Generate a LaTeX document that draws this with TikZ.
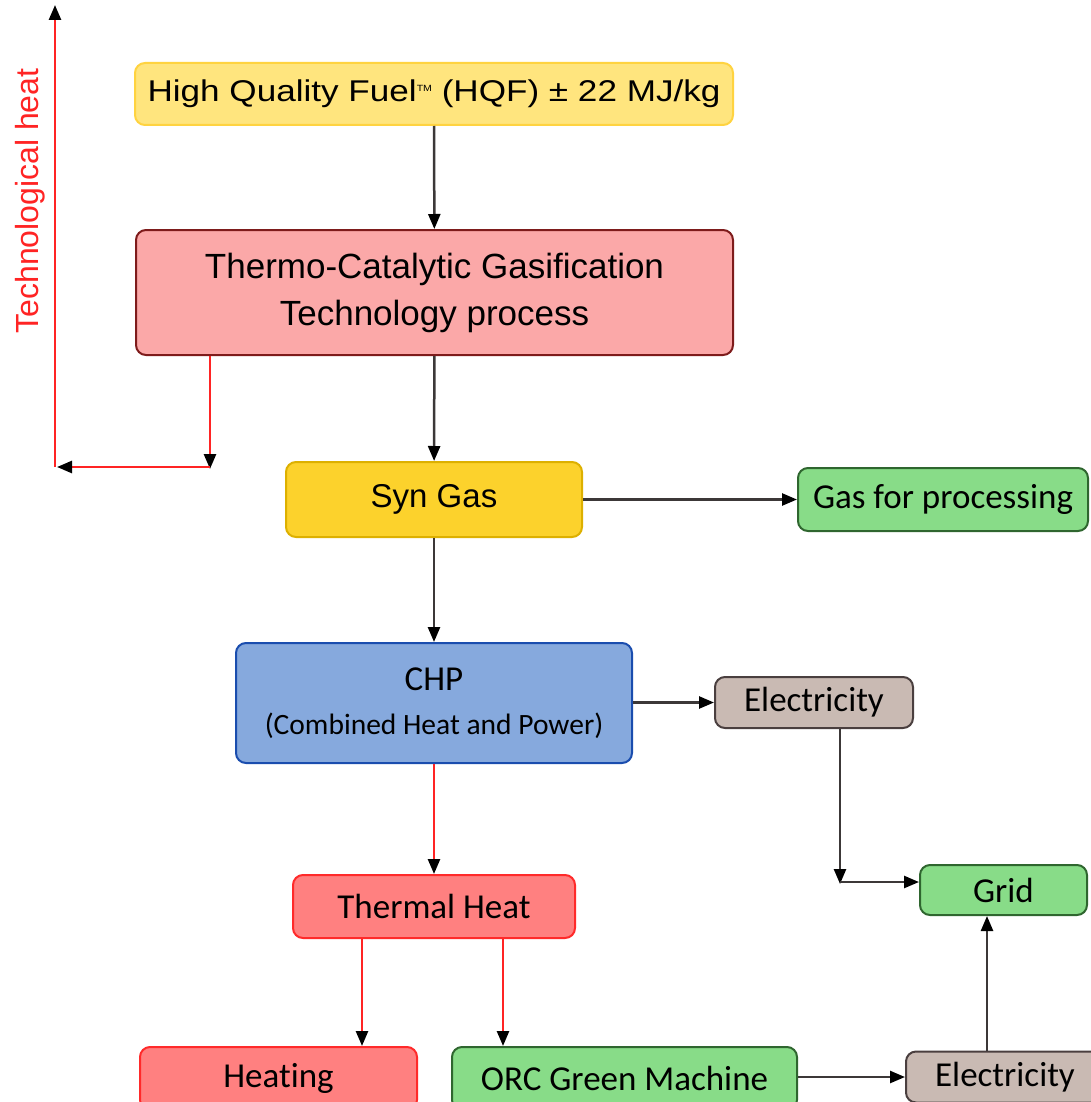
\documentclass[tikz,border=0pt]{standalone}
\usepackage{fontspec}
\setmainfont[Ligatures=NoCommon]{Carlito}
\newfontfamily\arialfont{Liberation Sans}
\newfontfamily\widearial[FakeStretch=1.17]{Liberation Sans}
\usetikzlibrary{arrows.meta}

\definecolor{fuelfill}{HTML}{FFE57E}
\definecolor{fueldraw}{HTML}{FFD340}
\definecolor{tcgfill}{HTML}{FBA8A8}
\definecolor{tcgdraw}{HTML}{7E1B1B}
\definecolor{synfill}{HTML}{FCD22C}
\definecolor{syndraw}{HTML}{DDB000}
\definecolor{greenfill}{HTML}{88DC88}
\definecolor{greendraw}{HTML}{2F662F}
\definecolor{chpfill}{HTML}{86A9DD}
\definecolor{chpdraw}{HTML}{1A4DAE}
\definecolor{elecfill}{HTML}{C9BAB3}
\definecolor{elecdraw}{HTML}{4A3F3F}
\definecolor{heatfill}{HTML}{FF8080}
\definecolor{heatdraw}{HTML}{FF2A2A}
\definecolor{linegray}{HTML}{3C3838}
\definecolor{hotred}{HTML}{FF2424}

\tikzset{
  blk/.style = {draw, rounded corners=10pt, line width=2pt, inner sep=0pt,
                align=center, font=\fontsize{35}{42}\selectfont},
  greenblk/.style = {blk, fill=greenfill, draw=greendraw},
  elecblk/.style = {blk, fill=elecfill, draw=elecdraw,
                    minimum width=198pt, minimum height=51pt},
  heatblk/.style = {blk, fill=heatfill, draw=heatdraw, minimum height=63pt},
  arr/.style = {line width=2.5pt, color=linegray,
                -{Triangle[length=15pt, width=12pt, color=black]}},
  hot/.style = {arr, color=hotred},
}

\begin{document}
\begin{tikzpicture}[x=1pt, y=-1pt]
  \useasboundingbox (0,0) rectangle (1091,1102);

  \node[blk, fill=fuelfill, draw=fueldraw, minimum width=598pt, minimum height=62pt,
        font=\widearial\fontsize{30}{36}\selectfont] (fuel) at (434,94)
        {High Quality Fuel\raisebox{10pt}{\fontsize{9}{9}\selectfont TM} (HQF) \textpm{} 22 MJ/kg};
  \node[blk, fill=tcgfill, draw=tcgdraw, minimum width=597pt, minimum height=125pt,
        font=\arialfont\fontsize{35}{47}\selectfont] (tcg) at (434.5,292.5)
        {Thermo-Catalytic Gasification\\Technology process};
  \node[blk, fill=synfill, draw=syndraw, minimum width=296pt, minimum height=75pt,
        font=\arialfont\fontsize{33}{40}\selectfont] (syn) at (434,499.5) {Syn Gas};
  \node[greenblk, minimum width=290pt, minimum height=63pt] (proc) at (943,499.5)
        {Gas for processing};
  \node[blk, fill=chpfill, draw=chpdraw, minimum width=396pt, minimum height=120pt] (chp)
        at (434,703) {CHP\\[2pt]{\fontsize{29.5}{36}\selectfont (Combined Heat and Power)}};
  \node[elecblk] (elec) at (814,702.5) {Electricity};
  \node[greenblk, minimum width=167pt, minimum height=50pt] (grid) at (1003.5,890) {Grid};
  \node[heatblk, minimum width=282pt] (therm) at (434,906.5) {Thermal Heat};
  \node[heatblk, minimum width=277pt] (heat) at (278.5,1078.5) {Heating};
  \node[greenblk, minimum width=345pt, minimum height=63pt] (orc) at (624.5,1078.5)
        {ORC Green Machine};
  \node[elecblk] (elecb) at (1005,1077) {Electricity};

  \node[rotate=90, text=hotred, font=\arialfont\fontsize{32}{38}\selectfont] (techheat)
        at (30,201) {Technological heat};

  \coordinate (tk) at (210,467);
  \coordinate (tl) at (55,467);
  \coordinate (tt) at (55,5);
  \coordinate (gk) at (840,882);

  \draw[arr] (fuel) -- (tcg);
  \draw[arr] (tcg) -- (syn);
  \draw[arr] (syn) -- (proc);
  \draw[arr] (syn) -- (chp);
  \draw[arr] (chp.east |- elec) -- (elec);
  \draw[arr] (elec.south -| gk) -- ([yshift=-2pt]gk);
  \draw[arr] (gk) -- (gk -| grid.west);
  \draw[arr] (orc.east |- elecb) -- (elecb);
  \draw[arr] ([xshift=-18pt]elecb.north) -- ([xshift=-18pt]elecb.north |- grid.south);

  \draw[hot] (tcg.south -| tk) -- ([yshift=-2pt]tk);
  \draw[hot] (tk) -- ([xshift=2pt]tl);
  \draw[hot] (tl) -- (tt);
  \draw[hot] (chp) -- (therm);
  \draw[hot] ([xshift=-72pt]therm.south) -- ([xshift=-72pt]therm.south |- heat.north);
  \draw[hot] ([xshift=69pt]therm.south) -- ([xshift=69pt]therm.south |- orc.north);
\end{tikzpicture}
\end{document}
